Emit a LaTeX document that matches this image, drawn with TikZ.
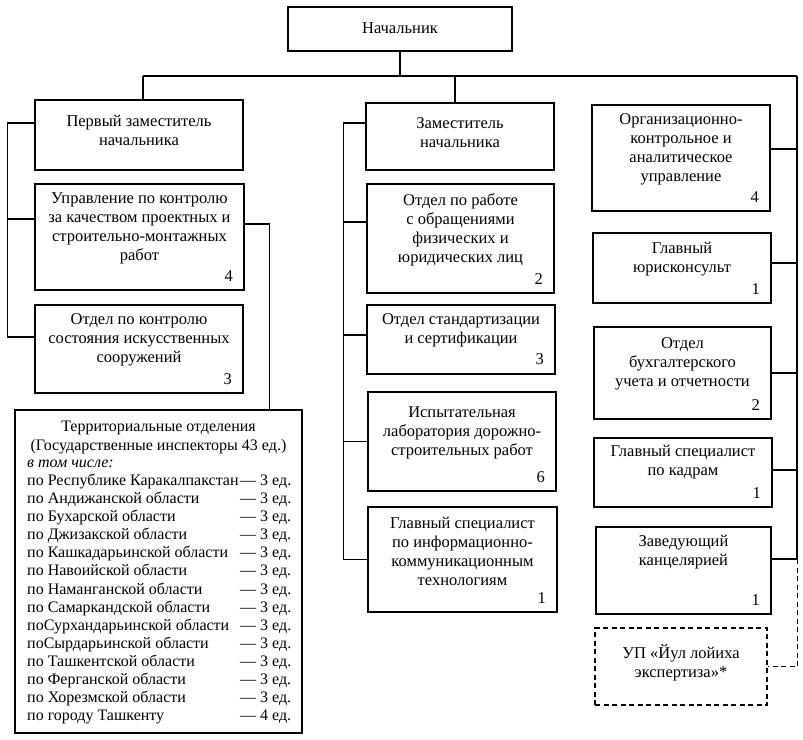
\documentclass[tikz,border=0pt]{standalone}
\usepackage{fontspec}
\setmainfont{Liberation Serif}
\begin{document}
\begin{tikzpicture}[x=1bp,y=-1bp,
  box/.style={draw, line width=1.5bp, inner sep=0pt},
  dbox/.style={draw, line width=1.3bp, dash pattern=on 5bp off 3.5bp, inner sep=0pt},
  txt/.style={align=center, inner sep=0pt, font=\fontsize{16.5bp}{19bp}\selectfont},
  num/.style={inner sep=0pt, font=\fontsize{16.5bp}{19bp}\selectfont},
  lst/.style={align=left, inner sep=0pt, font=\fontsize{16bp}{18.1bp}\selectfont},
  ln/.style={line width=1.4bp},
  dln/.style={line width=1.3bp, dash pattern=on 5bp off 3.5bp}]
\useasboundingbox (0,0) rectangle (803,740);
\fill[white] (0,0) rectangle (803,740);

% boxes
\node[box, minimum width=224bp, minimum height=44bp] (nach) at (400,29) {};
\node[txt] (nach-t) at (400,28) {Начальник};

\node[box, minimum width=208bp, minimum height=70bp] (perv) at (139,135) {};
\node[txt] (perv-t) at (139,130) {Первый заместитель\\начальника};

\node[box, minimum width=209bp, minimum height=106bp] (upr) at (139.5,237) {};
\node[txt] (upr-t) at (139.5,228.5) {Управление по контролю\\за качеством проектных и\\строительно-монтажных\\работ};
\node[num] (upr-n) at ([xshift=-16bp,yshift=14.5bp]upr.south east) {4};

\node[box, minimum width=208bp, minimum height=88bp] (otdk) at (139,349) {};
\node[txt] (otdk-t) at (139,339.5) {Отдел по контролю\\состояния искусственных\\сооружений};
\node[num] (otdk-n) at ([xshift=-16bp,yshift=14.5bp]otdk.south east) {3};

\node[box, minimum width=287bp, minimum height=323bp] (terr) at (158.5,571.5) {};
\node[lst, align=center, font=\fontsize{16bp}{19bp}\selectfont] (terr-t) at (158.5,437) {Территориальные отделения\\(Государственные инспекторы 43 ед.)};
\node[lst, anchor=west] (terr-l) at (27,592) {\textit{в том числе:}\\
\makebox[213bp][l]{по Республике Каракалпакстан}— 3 ед.\\
\makebox[213bp][l]{по Андижанской области}— 3 ед.\\
\makebox[213bp][l]{по Бухарской области}— 3 ед.\\
\makebox[213bp][l]{по Джизакской области}— 3 ед.\\
\makebox[213bp][l]{по Кашкадарьинской области}— 3 ед.\\
\makebox[213bp][l]{по Навоийской области}— 3 ед.\\
\makebox[213bp][l]{по Наманганской области}— 3 ед.\\
\makebox[213bp][l]{по Самаркандской области}— 3 ед.\\
\makebox[213bp][l]{поСурхандарьинской области}— 3 ед.\\
\makebox[213bp][l]{поСырдарьинской области}— 3 ед.\\
\makebox[213bp][l]{по Ташкентской области}— 3 ед.\\
\makebox[213bp][l]{по Ферганской области}— 3 ед.\\
\makebox[213bp][l]{по Хорезмской области}— 3 ед.\\
\makebox[213bp][l]{по городу Ташкенту}— 4 ед.};

\node[box, minimum width=188bp, minimum height=67bp] (zam) at (460,136.5) {};
\node[txt] (zam-t) at (460,132.5) {Заместитель\\начальника};

\node[box, minimum width=187bp, minimum height=109bp] (obr) at (460.5,238.5) {};
\node[txt] (obr-t) at (460.5,230) {Отдел по работе\\с обращениями\\физических и\\юридических лиц};
\node[num] (obr-n) at ([xshift=-16bp,yshift=14.5bp]obr.south east) {2};

\node[box, minimum width=188bp, minimum height=69bp] (std) at (461,339.5) {};
\node[txt] (std-t) at (461,330.5) {Отдел стандартизации\\и сертификации};
\node[num] (std-n) at ([xshift=-16bp,yshift=16bp]std.south east) {3};

\node[box, minimum width=188bp, minimum height=99bp] (isp) at (462,441.5) {};
\node[txt] (isp-t) at (462,432.5) {Испытательная\\лаборатория дорожно-\\строительных работ};
\node[num] (isp-n) at ([xshift=-16bp,yshift=14.5bp]isp.south east) {6};

\node[box, minimum width=189bp, minimum height=105bp] (gsit) at (462.5,559.5) {};
\node[txt] (gsit-t) at (462.5,551.5) {Главный специалист\\по информационно-\\коммуникационным\\технологиям};
\node[num] (gsit-n) at ([xshift=-16bp,yshift=14.5bp]gsit.south east) {1};

\node[box, minimum width=178bp, minimum height=106bp] (org) at (681,158) {};
\node[txt] (org-t) at (681,149.5) {Организационно-\\контрольное и\\аналитическое\\управление};
\node[num] (org-n) at ([xshift=-16bp,yshift=14.5bp]org.south east) {4};

\node[box, minimum width=178bp, minimum height=70bp] (yur) at (682,268) {};
\node[txt] (yur-t) at (682,259) {Главный\\юрисконсульт};
\node[num] (yur-n) at ([xshift=-16bp,yshift=14.5bp]yur.south east) {1};

\node[box, minimum width=177bp, minimum height=92bp] (buh) at (682.5,373) {};
\node[txt] (buh-t) at (682.5,364) {Отдел\\бухгалтерского\\учета и отчетности};
\node[num] (buh-n) at ([xshift=-16bp,yshift=14.5bp]buh.south east) {2};

\node[box, minimum width=178bp, minimum height=69bp] (kadr) at (683,472.5) {};
\node[txt] (kadr-t) at (683,462.5) {Главный специалист\\по кадрам};
\node[num] (kadr-n) at ([xshift=-16bp,yshift=14.5bp]kadr.south east) {1};

\node[box, minimum width=175bp, minimum height=87bp] (zav) at (683.5,570.5) {};
\node[txt] (zav-t) at (683.5,552.5) {Заведующий\\канцелярией};
\node[num] (zav-n) at ([xshift=-16bp,yshift=14.5bp]zav.south east) {1};

\node[dbox, minimum width=172bp, minimum height=77bp] (up) at (681,666.5) {};
\node[txt] (up-t) at (681,663) {УП «Йул лойиха\\экспертиза»*};

% connectors
\coordinate (busL) at (143,76);
\coordinate (busM) at (455,76);
\coordinate (busR) at (797,76);
\draw[ln] (nach.south) -- (nach.south |- busL);
\draw[ln] (busL) -- (busR);
\draw[ln] (busL) -- (busL |- perv.north);
\draw[ln] (busM) -- (busM |- zam.north);

% left rail
\draw[ln] ([yshift=12bp]perv.west) -- ++(-27bp,0) |- ([yshift=12bp]otdk.west);
\draw[ln] ([yshift=18bp]upr.west) -- ++(-27bp,0);
\draw[ln] ([yshift=13bp]upr.east) -| ([xshift=111bp]terr.north);

% middle rail
\draw[ln] ([yshift=13.5bp]zam.west) -- ++(-22bp,0) |- (gsit.west);
\draw[ln] ([yshift=16.5bp]obr.west) -- ++(-23bp,0);
\draw[ln] ([yshift=4.5bp]std.west) -- ++(-23bp,0);
\draw[ln] (isp.west) -- ++(-24bp,0);

% right rail
\draw[ln] (busR) |- ([yshift=11.5bp]zav.east);
\draw[ln] ([yshift=9bp]org.east) -- ++(27bp,0);
\draw[ln] ([yshift=5bp]yur.east) -- ++(26bp,0);
\draw[ln] (buh.east) -- ++(26bp,0);
\draw[ln] ([yshift=2.5bp]kadr.east) -- ++(25bp,0);
\draw[dln] ([xshift=26bp,yshift=11.5bp]zav.east) |- (up.east);
\end{tikzpicture}
\end{document}
